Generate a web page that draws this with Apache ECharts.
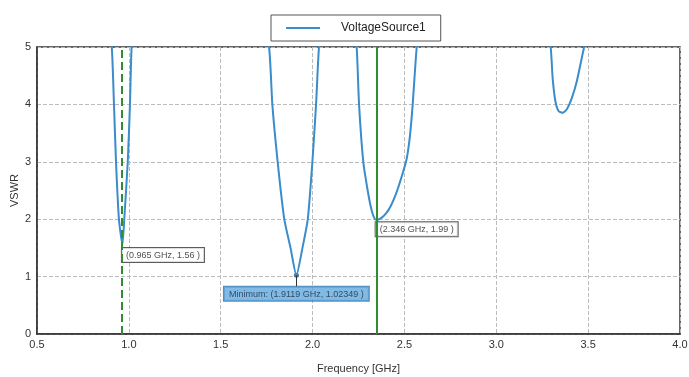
<!DOCTYPE html>
<html lang="en">
<head>
    <meta charset="UTF-8">
    <title>VSWR</title>
    <script src="https://cdn.jsdelivr.net/npm/echarts@6/dist/echarts.min.js"></script>
    <style>
        html, body { margin: 0; padding: 0; background: #fff; }
        #main { width: 689px; height: 377px; }
    </style>
</head>
<body>
<div id="main"></div>
<script>
    // frequency sweep (GHz) and VSWR; values above 5 are clipped by the axis
    var freq = [0.50, 0.70, 0.85, 0.907, 0.919, 0.930, 0.946, 0.965, 0.975, 0.994, 1.006, 1.015, 1.05, 1.20, 1.50,
        1.70, 1.763, 1.781, 1.810, 1.846, 1.880, 1.9119, 1.945, 1.974, 1.999, 2.019, 2.035, 2.07, 2.15,
        2.20, 2.240, 2.253, 2.276, 2.300, 2.318, 2.333, 2.346, 2.373, 2.400, 2.427, 2.454, 2.481, 2.512, 2.530, 2.545, 2.567, 2.62,
        2.80, 3.10, 3.25, 3.296, 3.307, 3.322, 3.340, 3.362, 3.385, 3.410, 3.438, 3.478, 3.55, 3.80, 4.00];
    var vswr = [9.0, 8.0, 7.0, 5.0, 4.0, 3.0, 2.0, 1.56, 2.0, 3.0, 4.0, 5.0, 6.5, 9.0, 9.0,
        6.0, 5.0, 4.0, 3.0, 2.0, 1.50, 1.0235, 1.50, 2.0, 3.0, 4.0, 5.0, 6.0, 7.5,
        6.5, 5.0, 4.0, 3.0, 2.5, 2.2, 2.04, 1.99, 2.02, 2.10, 2.24, 2.44, 2.70, 3.05, 3.45, 4.0, 5.0, 6.5,
        8.0, 7.0, 6.0, 5.0, 4.45, 4.05, 3.88, 3.855, 3.92, 4.1, 4.4, 5.0, 6.0, 7.0, 8.0];

    var xTicks = [0.5, 1.0, 1.5, 2.0, 2.5, 3.0, 3.5, 4.0];
    var yTicks = [0, 1, 2, 3, 4, 5];

    var marker1 = [0.965, 1.56];
    var marker2 = [2.346, 1.99];
    var minPoint = [1.9119, 1.02349];

    var blue = '#3a8ccb';
    var green = '#2f8f2f';
    var boxFont = 'Liberation Sans, Arial, sans-serif';

    var option = {
        animation: false,
        backgroundColor: '#fff',
        legend: {
            data: ['VoltageSource1'],
            left: 271,
            top: 15,
            padding: [7, 15, 7, 15],
            borderColor: '#555',
            borderWidth: 1,
            icon: 'rect',
            itemWidth: 34,
            itemHeight: 2,
            textStyle: {
                fontFamily: 'Liberation Sans Narrow, Arial Narrow, sans-serif',
                fontSize: 12,
                color: '#222',
                padding: [0, 0, 0, 16]
            }
        },
        grid: {
            left: 37,
            right: 9,
            top: 47,
            bottom: 43,
            outerBoundsMode: 'none',
            containLabel: false,
            show: true,
            borderColor: '#333',
            borderWidth: 1.5,
            backgroundColor: 'transparent'
        },
        xAxis: {
            type: 'value',
            min: xTicks[0],
            max: xTicks[xTicks.length - 1],
            interval: 0.5,
            name: 'Frequency [GHz]',
            nameLocation: 'middle',
            nameGap: 29,
            nameTextStyle: {fontFamily: 'Liberation Sans Narrow, Arial, sans-serif', fontSize: 11, color: '#333'},
            axisLine: {lineStyle: {color: '#333', width: 1.5}},
            axisTick: {show: false},
            axisLabel: {
                color: '#333', fontSize: 11, fontFamily: 'Liberation Sans, Arial', margin: 5,
                formatter: function (v) { return v.toFixed(1); }
            },
            splitLine: {lineStyle: {color: '#bbb', type: 'dashed'}}
        },
        yAxis: {
            type: 'value',
            min: yTicks[0],
            max: yTicks[yTicks.length - 1],
            interval: 1,
            name: 'VSWR',
            nameLocation: 'middle',
            nameGap: 17,
            nameMoveOverlap: false,
            nameTextStyle: {fontFamily: 'Liberation Sans, Arial, sans-serif', fontSize: 11, color: '#333'},
            axisLine: {show: true, lineStyle: {color: '#333', width: 1.5}},
            axisTick: {show: false},
            axisLabel: {color: '#333', fontSize: 11, fontFamily: 'Liberation Sans, Arial', margin: 6},
            splitLine: {lineStyle: {color: '#bbb', type: 'dashed'}}
        },
        series: [
            {
                name: 'VoltageSource1',
                type: 'line',
                data: freq.map(function (f, i) { return [f, vswr[i]]; }),
                showSymbol: false,
                smooth: 0.2,
                clip: true,
                lineStyle: {color: blue, width: 2},
                itemStyle: {color: blue},
                markLine: {
                    silent: true,
                    symbol: 'none',
                    label: {show: false},
                    data: [
                        {xAxis: marker1[0], lineStyle: {color: green, type: 'dashed', width: 2}},
                        {xAxis: marker2[0], lineStyle: {color: green, type: 'solid', width: 2}}
                    ]
                }
            },
            {
                name: 'markers',
                type: 'scatter',
                silent: true,
                symbolSize: 1,
                itemStyle: {color: green},
                data: [
                    {value: marker1, label: {position: [0, 4]}},
                    {value: marker2, label: {position: [0, 3]}}
                ],
                label: {
                    show: true,
                    align: 'left',
                    verticalAlign: 'top',
                    formatter: function (p) {
                        return '(' + p.value[0].toFixed(3) + ' GHz, ' + p.value[1].toFixed(2) + ' )';
                    },
                    fontFamily: boxFont,
                    fontSize: 9,
                    color: '#222',
                    backgroundColor: '#fff',
                    borderColor: '#333',
                    borderWidth: 1,
                    padding: [3, 4, 2, 4]
                }
            },
            {
                name: 'minimum',
                type: 'scatter',
                silent: true,
                symbolSize: 5,
                itemStyle: {color: '#1f4f8a'},
                data: [minPoint],
                label: {
                    show: true,
                    position: 'bottom',
                    distance: 9,
                    formatter: function (p) {
                        return 'Minimum: (' + p.value[0] + ' GHz, ' + p.value[1] + ' )';
                    },
                    fontFamily: boxFont,
                    fontSize: 9,
                    color: '#1a2a40',
                    backgroundColor: '#62a9df',
                    borderColor: '#2c6fae',
                    borderWidth: 1,
                    padding: [3, 5, 2, 5]
                },
                markLine: {
                    silent: true,
                    symbol: 'none',
                    label: {show: false},
                    lineStyle: {color: '#333', width: 1, type: 'solid'},
                    data: [[
                        {coord: [minPoint[0], minPoint[1]]},
                        {coord: [minPoint[0], minPoint[1] - 0.19]}
                    ]]
                }
            }
        ]
    };

    echarts.init(document.getElementById('main')).setOption(option);
</script>
</body>
</html>
